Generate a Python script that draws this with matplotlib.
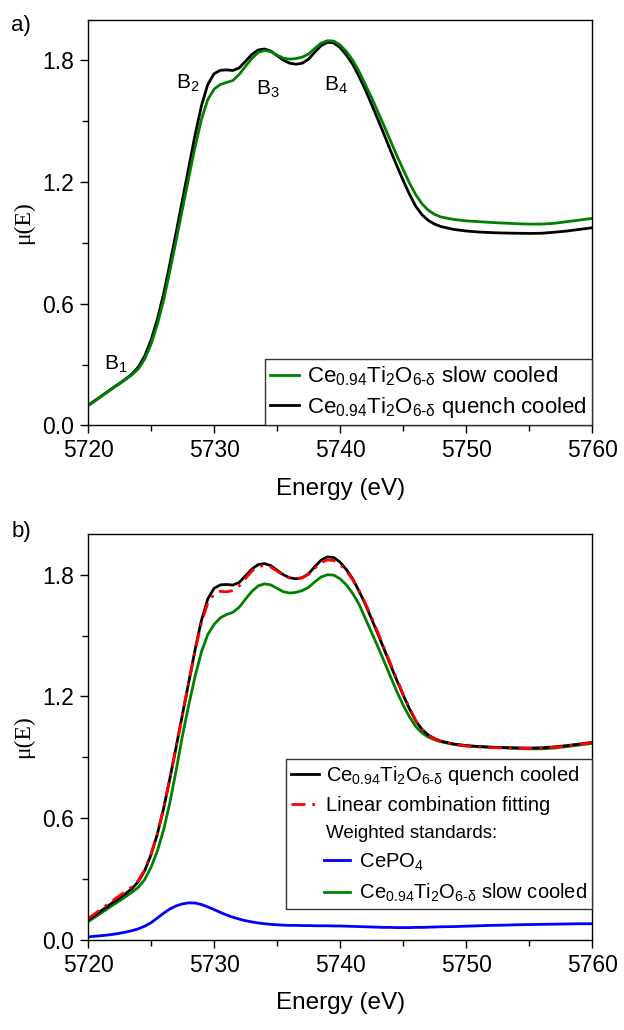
import matplotlib
matplotlib.use('Agg')
import matplotlib.pyplot as plt
from matplotlib.lines import Line2D
from matplotlib.legend_handler import HandlerLine2D
from matplotlib.ticker import MultipleLocator

plt.rcParams['font.family'] = ['Liberation Sans', 'DejaVu Sans']
plt.rcParams['mathtext.fontset'] = 'custom'
plt.rcParams['mathtext.rm'] = 'Liberation Sans'
plt.rcParams['mathtext.it'] = 'Liberation Sans'
plt.rcParams['mathtext.bf'] = 'Liberation Sans:bold'

# energy grid (eV)
energy = [5720.0, 5720.5, 5721.0, 5721.5, 5722.0, 5722.5, 5723.0, 5723.5,
          5724.0, 5724.5, 5725.0, 5725.5, 5726.0, 5726.5, 5727.0, 5727.5,
          5728.0, 5728.5, 5729.0, 5729.5, 5730.0, 5730.5, 5731.0, 5731.5,
          5732.0, 5732.5, 5733.0, 5733.5, 5734.0, 5734.5, 5735.0, 5735.5,
          5736.0, 5736.5, 5737.0, 5737.5, 5738.0, 5738.5, 5739.0, 5739.5,
          5740.0, 5740.5, 5741.0, 5741.5, 5742.0, 5742.5, 5743.0, 5743.5,
          5744.0, 5744.5, 5745.0, 5745.5, 5746.0, 5746.5, 5747.0, 5747.5,
          5748.0, 5749.0, 5750.0, 5751.0, 5752.0, 5753.0, 5754.0, 5755.0,
          5756.0, 5757.0, 5758.0, 5759.0, 5760.0]

# quench cooled Ce0.94Ti2O6-d
quench = [0.099, 0.120, 0.142, 0.164, 0.186, 0.207, 0.229, 0.254,
          0.288, 0.342, 0.420, 0.522, 0.648, 0.797, 0.953, 1.113,
          1.273, 1.432, 1.575, 1.680, 1.733, 1.750, 1.752, 1.749,
          1.762, 1.795, 1.828, 1.850, 1.855, 1.845, 1.822, 1.800,
          1.785, 1.780, 1.785, 1.805, 1.840, 1.872, 1.888, 1.885,
          1.862, 1.825, 1.780, 1.720, 1.655, 1.582, 1.508, 1.432,
          1.355, 1.280, 1.208, 1.140, 1.080, 1.038, 1.010, 0.992,
          0.980, 0.966, 0.958, 0.953, 0.950, 0.948, 0.947, 0.946,
          0.947, 0.952, 0.958, 0.966, 0.974]

# slow cooled Ce0.94Ti2O6-d
slow = [0.097, 0.118, 0.140, 0.162, 0.184, 0.205, 0.227, 0.250,
        0.279, 0.327, 0.400, 0.497, 0.617, 0.762, 0.913, 1.068,
        1.223, 1.373, 1.508, 1.605, 1.657, 1.680, 1.690, 1.700,
        1.730, 1.770, 1.808, 1.838, 1.848, 1.842, 1.825, 1.810,
        1.805, 1.808, 1.815, 1.830, 1.858, 1.884, 1.896, 1.894,
        1.875, 1.843, 1.800, 1.745, 1.680, 1.615, 1.545, 1.475,
        1.402, 1.330, 1.262, 1.195, 1.137, 1.092, 1.060, 1.040,
        1.027, 1.015, 1.008, 1.004, 1.000, 0.997, 0.994, 0.992,
        0.992, 0.996, 1.004, 1.012, 1.020]

# linear combination fit
lcf = [0.105, 0.127, 0.150, 0.173, 0.196, 0.218, 0.240, 0.263,
       0.294, 0.346, 0.422, 0.522, 0.648, 0.797, 0.953, 1.113,
       1.270, 1.425, 1.565, 1.660, 1.705, 1.718, 1.716, 1.722,
       1.745, 1.782, 1.818, 1.840, 1.846, 1.838, 1.818, 1.798,
       1.784, 1.780, 1.785, 1.802, 1.832, 1.860, 1.873, 1.870,
       1.850, 1.818, 1.776, 1.722, 1.660, 1.590, 1.516, 1.440,
       1.362, 1.286, 1.212, 1.143, 1.082, 1.038, 1.008, 0.990,
       0.978, 0.964, 0.956, 0.951, 0.948, 0.946, 0.945, 0.944,
       0.945, 0.950, 0.956, 0.964, 0.972]

# weighted standards
cepo4_w = [0.015, 0.018, 0.021, 0.024, 0.028, 0.033, 0.039, 0.046,
           0.055, 0.068, 0.085, 0.108, 0.132, 0.153, 0.168, 0.178,
           0.183, 0.182, 0.175, 0.163, 0.150, 0.136, 0.123, 0.112,
           0.103, 0.095, 0.089, 0.084, 0.080, 0.077, 0.075, 0.073,
           0.072, 0.072, 0.071, 0.071, 0.070, 0.070, 0.070, 0.069,
           0.069, 0.068, 0.067, 0.066, 0.065, 0.064, 0.063, 0.062,
           0.062, 0.061, 0.061, 0.061, 0.062, 0.062, 0.063, 0.064,
           0.065, 0.066, 0.068, 0.070, 0.072, 0.073, 0.075, 0.076,
           0.077, 0.078, 0.079, 0.080, 0.080]

slow_w = [0.090, 0.110, 0.131, 0.152, 0.173, 0.193, 0.214, 0.236,
          0.260, 0.298, 0.358, 0.438, 0.543, 0.678, 0.838, 1.008,
          1.160, 1.300, 1.420, 1.505, 1.555, 1.588, 1.604, 1.615,
          1.640, 1.680, 1.718, 1.745, 1.755, 1.750, 1.733, 1.716,
          1.710, 1.713, 1.722, 1.738, 1.765, 1.789, 1.800, 1.798,
          1.780, 1.750, 1.708, 1.655, 1.585, 1.515, 1.445, 1.372,
          1.298, 1.225, 1.158, 1.100, 1.052, 1.020, 1.000, 0.987,
          0.977, 0.964, 0.957, 0.953, 0.950, 0.947, 0.944, 0.942,
          0.942, 0.946, 0.953, 0.961, 0.969]

peak_labels = ['B$_1$', 'B$_2$', 'B$_3$', 'B$_4$']
peak_x = [5721.3, 5727.0, 5733.3, 5738.7]
peak_y = [0.30, 1.684, 1.654, 1.674]

ce = r'Ce$_{0.94}$Ti$_2$O$_{6\text{-}\delta}$'
GREEN = '#008000'


class ShiftedLine(HandlerLine2D):
    def create_artists(self, legend, orig_handle, xdescent, ydescent,
                       width, height, fontsize, trans):
        return super().create_artists(legend, orig_handle, xdescent - 24,
                                      ydescent, width * 0.9, height,
                                      fontsize, trans)


def style_axes(ax):
    ax.set_xlim(5720, 5760)
    ax.set_ylim(0, 2.0)
    ax.xaxis.set_major_locator(MultipleLocator(10))
    ax.xaxis.set_minor_locator(MultipleLocator(5))
    ax.yaxis.set_major_locator(MultipleLocator(0.6))
    ax.yaxis.set_minor_locator(MultipleLocator(0.3))
    ax.yaxis.set_major_formatter('{x:.1f}')
    ax.tick_params(which='major', direction='out', length=6, width=1,
                   labelsize=16.5, top=False, right=False, pad=4)
    ax.tick_params(which='minor', direction='out', length=4, width=1,
                   top=False, right=False)
    for sp in ax.spines.values():
        sp.set_linewidth(1.0)
    ax.set_xlabel('Energy (eV)', fontsize=17.5, labelpad=11)
    ax.set_ylabel('\u03bc(E)', fontsize=17, family='Liberation Serif',
                  labelpad=6)


fig = plt.figure(figsize=(6.24, 10.30), dpi=100)
ax1 = fig.add_axes([0.141, 0.587, 0.808, 0.394])
ax2 = fig.add_axes([0.141, 0.0874, 0.808, 0.394])

# panel a
ax1.plot(energy, quench, color='black', lw=2)
ax1.plot(energy, slow, color=GREEN, lw=2)
for lab, x, y in zip(peak_labels, peak_x, peak_y):
    ax1.text(x, y, lab, fontsize=15, va='center', ha='left')
h_slow = Line2D([], [], color=GREEN, lw=2)
h_quench = Line2D([], [], color='black', lw=2)
ax1.legend([h_slow, h_quench], [ce + ' slow cooled', ce + ' quench cooled'],
           loc='lower right', borderaxespad=0, fancybox=False,
           edgecolor='#333333', framealpha=1, fontsize=16,
           handlelength=1.3, handletextpad=0.35, borderpad=0.25,
           labelspacing=0.3)
style_axes(ax1)

# panel b
ax2.plot(energy, cepo4_w, color='blue', lw=2)
ax2.plot(energy, slow_w, color=GREEN, lw=2)
ax2.plot(energy, quench, color='black', lw=2)
ax2.plot(energy, lcf, color='red', lw=2, ls=(0, (5, 2.5, 1, 2.5)))
hb = [Line2D([], [], color='black', lw=2),
      Line2D([], [], color='red', lw=2, ls=(0, (5, 2.5, 1, 2.5))),
      Line2D([], [], color='none'),
      Line2D([], [], color='blue', lw=2),
      Line2D([], [], color=GREEN, lw=2)]
lb = [ce + ' quench cooled', 'Linear combination fitting',
      'Weighted standards:', '      CePO$_4$', '      ' + ce + ' slow cooled']
leg = ax2.legend(hb, lb, loc='lower right', bbox_to_anchor=(1.0, 0.076),
                 borderaxespad=0, fancybox=False, edgecolor='#333333',
                 framealpha=1, fontsize=14.5, handlelength=1.4,
                 handletextpad=0.35, borderpad=0.25, labelspacing=0.45,
                 handler_map={hb[3]: ShiftedLine(), hb[4]: ShiftedLine()})
leg.get_texts()[2].set_fontsize(13.5)
style_axes(ax2)

fig.text(0.018, 0.985, 'a)', fontsize=16, va='top')
fig.text(0.018, 0.494, 'b)', fontsize=16, va='top')

fig.savefig('out.png', dpi=100)
